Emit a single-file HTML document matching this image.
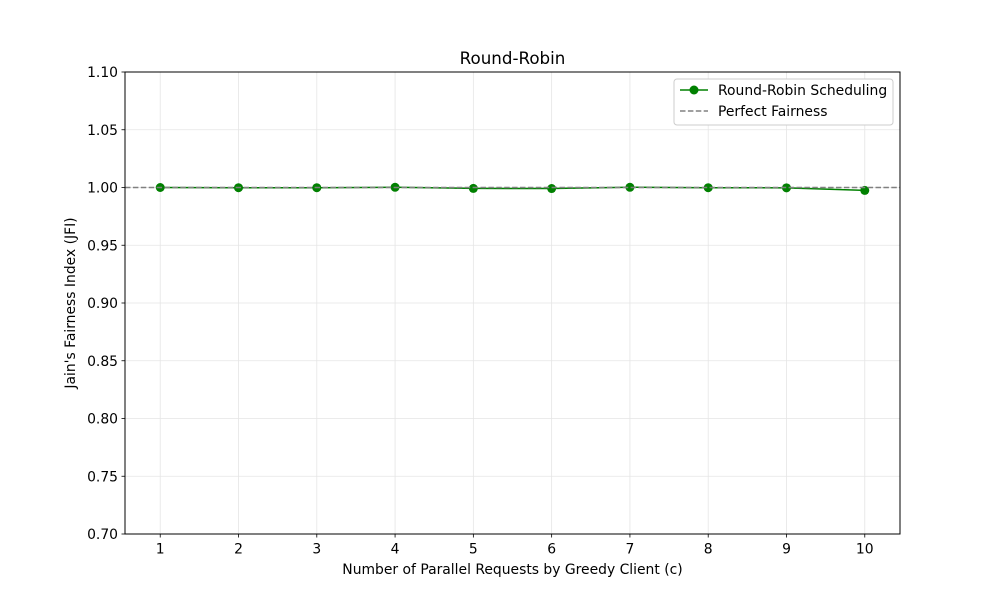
<!DOCTYPE html>
<html><head><meta charset="utf-8"><style>body{margin:0;background:#fff}svg{display:block;font-family:"DejaVu Sans","Liberation Sans",sans-serif}</style></head>
<body>
<svg id="chart" width="1000" height="600"></svg>
<script>
const categories=[1,2,3,4,5,6,7,8,9,10];
const rrValues=[1.0,0.9998,0.9998,1.0002,0.9992,0.9991,1.0002,0.9998,0.9997,0.9975];
const yTicks=[0.70,0.75,0.80,0.85,0.90,0.95,1.00,1.05,1.10];
const perfect=1.0;
const L=125,R=900,T=72,B=534,xMin=0.55,xMax=10.45,yMin=0.70,yMax=1.10;
const FS=13.9;
const xs=v=>L+(v-xMin)/(xMax-xMin)*(R-L);
const ys=v=>B-(v-yMin)/(yMax-yMin)*(B-T);
const svg=document.getElementById('chart');const NS='http://www.w3.org/2000/svg';
function mk(t,a,p){const e=document.createElementNS(NS,t);for(const k in a)e.setAttribute(k,a[k]);(p||svg).appendChild(e);return e;}
categories.forEach(c=>{const x=xs(c);
const g=mk('line',{x1:x,x2:x,y1:T,y2:B,stroke:'#e5e5e5','stroke-width':0.8});

mk('line',{x1:x,x2:x,y1:B,y2:B+3.5,stroke:'#000','stroke-width':0.8});
const t=mk('text',{x:x,y:B+19.5,'text-anchor':'middle','font-size':FS});t.textContent=c;
});
yTicks.forEach(v=>{const y=ys(v);
const g=mk('line',{x1:L,x2:R,y1:y,y2:y,stroke:'#e5e5e5','stroke-width':0.8});

mk('line',{x1:L-3.5,x2:L,y1:y,y2:y,stroke:'#000','stroke-width':0.8});
const t=mk('text',{x:L-7,y:y+5,'text-anchor':'end','font-size':FS});t.textContent=v.toFixed(2);
});
const pts=categories.map((c,i)=>xs(c)+','+ys(rrValues[i])).join(' ');
const ln=mk('polyline',{points:pts,fill:'none',stroke:'#008000','stroke-width':1.5});

categories.forEach((c,i)=>{const m=mk('circle',{cx:xs(c),cy:ys(rrValues[i]),r:4.5,fill:'#008000'});
});
const pf=mk('line',{x1:L,x2:R,y1:ys(perfect),y2:ys(perfect),stroke:'#808080','stroke-width':1.5,'stroke-dasharray':'5.5,2.4'});

const fr=mk('rect',{x:L,y:T,width:R-L,height:B-T,fill:'none',stroke:'#000','stroke-width':1});

const ti=mk('text',{x:(L+R)/2,y:64,'text-anchor':'middle','font-size':16.7});ti.textContent='Round-Robin';

const xl=mk('text',{x:(L+R)/2,y:574,'text-anchor':'middle','font-size':FS});xl.textContent='Number of Parallel Requests by Greedy Client (c)';

const yl=mk('text',{x:0,y:0,'text-anchor':'middle','font-size':FS,transform:`translate(75,${(T+B)/2}) rotate(-90)`});yl.textContent="Jain's Fairness Index (JFI)";

const lg=mk('g',{});
mk('rect',{x:674,y:79,width:219,height:46,rx:3,fill:'#fff',stroke:'#ccc','stroke-width':1},lg);
const e1=mk('g',{},lg);
mk('line',{x1:680,x2:708,y1:90,y2:90,stroke:'#008000','stroke-width':1.5},e1);
mk('circle',{cx:694,cy:90,r:4.5,fill:'#008000'},e1);
mk('text',{x:718,y:95,'font-size':FS},e1).textContent='Round-Robin Scheduling';
const e2=mk('g',{},lg);
mk('line',{x1:680,x2:708,y1:111,y2:111,stroke:'#808080','stroke-width':1.5,'stroke-dasharray':'5.5,2.4'},e2);
mk('text',{x:718,y:116,'font-size':FS},e2).textContent='Perfect Fairness';
</script>
</body></html>
